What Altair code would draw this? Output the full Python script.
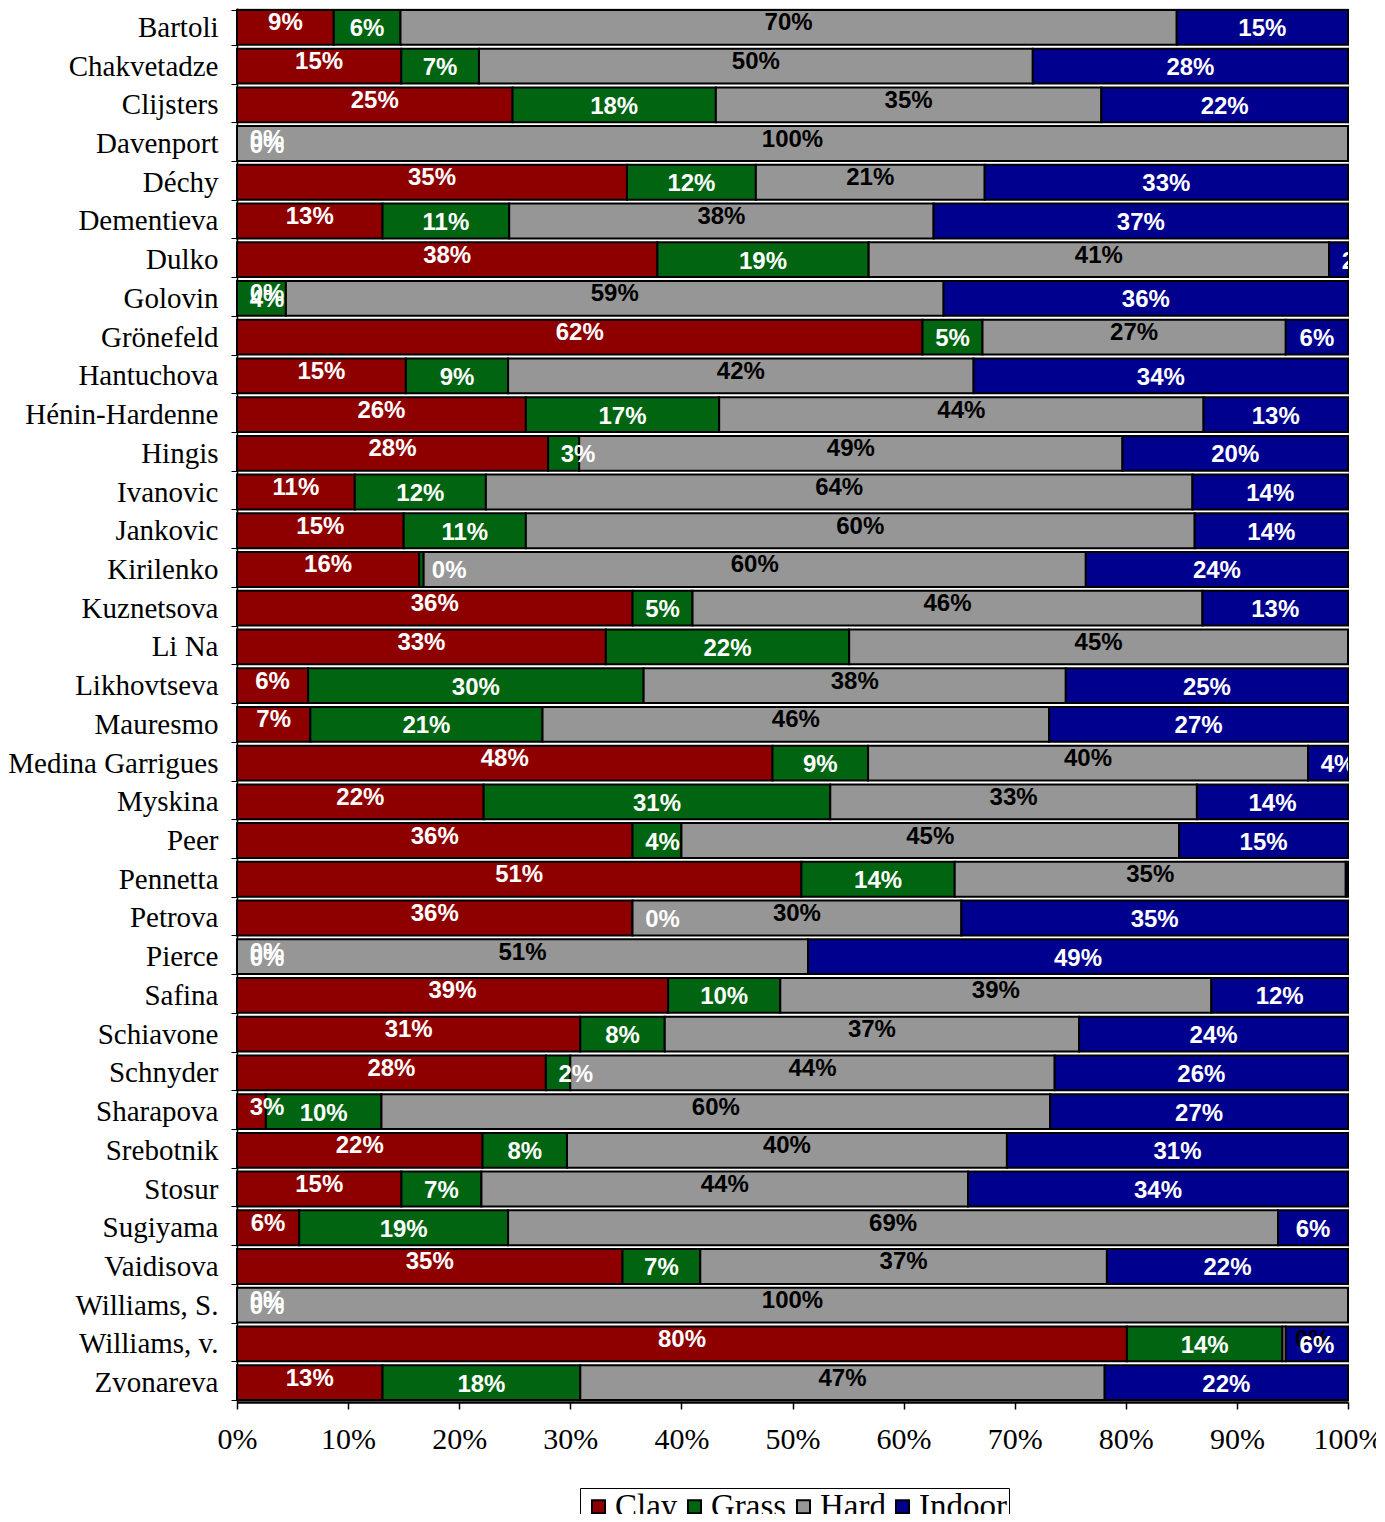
import altair as alt
import pandas as pd

players = ["Bartoli", "Chakvetadze", "Clijsters", "Davenport", "Déchy", "Dementieva",
           "Dulko", "Golovin", "Grönefeld", "Hantuchova", "Hénin-Hardenne", "Hingis",
           "Ivanovic", "Jankovic", "Kirilenko", "Kuznetsova", "Li Na", "Likhovtseva",
           "Mauresmo", "Medina Garrigues", "Myskina", "Peer", "Pennetta", "Petrova",
           "Pierce", "Safina", "Schiavone", "Schnyder", "Sharapova", "Srebotnik",
           "Stosur", "Sugiyama", "Vaidisova", "Williams, S.", "Williams, v.", "Zvonareva"]

clay = [8.7, 14.8, 24.8, 0, 35.1, 13.1, 37.8, 0, 61.7, 15.2, 26.0, 28.0,
        10.6, 15.0, 16.4, 35.6, 33.2, 6.4, 6.6, 48.2, 22.2, 35.6, 50.8, 35.6,
        0, 38.8, 30.9, 27.8, 2.6, 22.1, 14.8, 5.6, 34.7, 0, 80.1, 13.1]
grass = [6.0, 7.0, 18.3, 0, 11.6, 11.4, 19.0, 4.4, 5.4, 9.2, 17.4, 2.8,
         11.8, 11.0, 0.4, 5.4, 21.9, 30.2, 20.9, 8.6, 31.2, 4.4, 13.8, 0,
         0, 10.1, 7.6, 2.2, 10.4, 7.6, 7.2, 18.8, 7.0, 0, 14.0, 17.8]
hard = [69.8, 49.9, 34.7, 100, 20.6, 38.2, 41.4, 59.2, 27.3, 41.9, 43.6, 48.9,
        63.6, 60.2, 59.6, 45.9, 44.9, 38.0, 45.6, 39.6, 33.0, 44.8, 35.2, 29.6,
        51.4, 38.8, 37.3, 43.6, 60.2, 39.6, 43.8, 69.3, 36.6, 100, 0.3, 47.2]
indoor = [15.4, 28.4, 22.2, 0, 32.7, 37.3, 1.7, 36.4, 5.6, 33.7, 13.0, 20.3,
          14.0, 13.8, 23.6, 13.1, 0, 25.4, 26.9, 3.6, 13.6, 15.2, 0.2, 34.8,
          48.6, 12.3, 24.2, 26.4, 26.8, 30.7, 34.2, 6.3, 21.7, 0, 5.6, 21.9]

surfaces = ["Clay", "Grass", "Hard", "Indoor"]
colors = ["#8E0000", "#006411", "#969696", "#00008F"]
text_colors = ["white", "white", "black", "white"]
text_dy = [-4, 2, -4, 2]
tick_values = [0, 0.1, 0.2, 0.3, 0.4, 0.5, 0.6, 0.7, 0.8, 0.9, 1.0]

rows = []
for i, p in enumerate(players):
    for j, vals in enumerate([clay, grass, hard, indoor]):
        rows.append({"player": p, "surface": surfaces[j], "order": j, "value": vals[i]})
df = pd.DataFrame(rows)

xscale = alt.Scale(domain=[0, 1], nice=False, zero=True)
yenc = alt.Y("player:N", sort=players,
             scale=alt.Scale(paddingInner=0.1, paddingOuter=0.05),
             axis=alt.Axis(title=None, tickBand="extent", labelFont="Liberation Serif",
                           labelFontSize=29, labelColor="black", domainColor="black",
                           domainWidth=1.5, tickColor="black", tickSize=6, tickWidth=1,
                           labelPadding=13, labelLimit=400))

base = alt.Chart(df).transform_stack(
    stack="value", groupby=["player"], as_=["v0", "v1"], offset="normalize",
    sort=[alt.SortField("order", order="ascending")]
).transform_calculate(
    frac="datum.v1 - datum.v0",
    lab="max((datum.v0 + datum.v1) / 2, datum.v0 + 0.027)"
)

bars = base.mark_bar(stroke="black", strokeWidth=2).encode(
    x=alt.X("v0:Q", scale=xscale,
            axis=alt.Axis(title=None, format=".0%", values=tick_values, grid=False,
                          labelFont="Liberation Serif", labelFontSize=30, labelColor="black",
                          domainColor="black", domainWidth=2.5, tickColor="black",
                          tickSize=7, tickWidth=1.5, labelPadding=15, labelFlush=False,
                          labelOverlap=False)),
    x2="v1:Q",
    y=yenc,
    color=alt.Color("surface:N", scale=alt.Scale(domain=surfaces, range=colors),
                    legend=alt.Legend(title=None, orient="none", legendX=343, legendY=1480,
                                      direction="horizontal", columns=4,
                                      symbolType="square", symbolSize=170,
                                      symbolStrokeColor="black", symbolStrokeWidth=2,
                                      labelFont="Liberation Serif", labelFontSize=33,
                                      labelColor="black", strokeColor="black",
                                      fillColor="white", padding=2, columnPadding=0,
                                      labelOffset=0)),
)

layers = [bars]
for j, s in enumerate(surfaces):
    t = base.transform_filter(alt.datum.surface == s).mark_text(
        font="Liberation Sans", fontWeight="bold", fontSize=24, dy=text_dy[j],
        color=text_colors[j], clip=True, align="center", baseline="middle"
    ).encode(
        x=alt.X("lab:Q", scale=xscale),
        y=alt.Y("player:N", sort=players),
        text=alt.Text("frac:Q", format=".0%"),
    )
    layers.append(t)

chart = alt.layer(*layers).properties(
    width=1111, height=1394,
    autosize=alt.AutoSizeParams(type="none"),
    padding={"left": 229, "top": 0, "right": 28, "bottom": 112},
).configure_view(stroke=None).configure(background="white")

chart.save("out.html", embed_options={"renderer": "svg", "actions": False})
